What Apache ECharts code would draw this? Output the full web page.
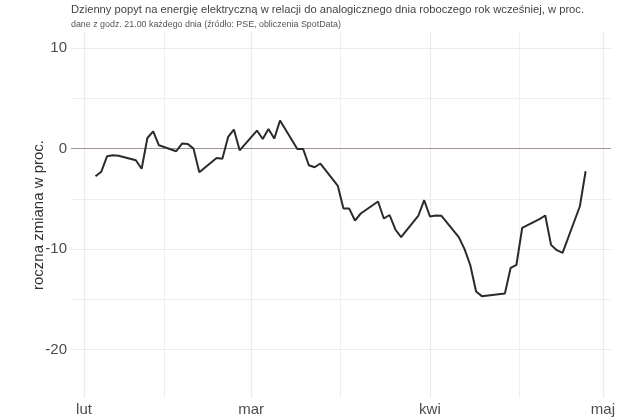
<!DOCTYPE html>
<html>
<head>
<meta charset="utf-8">
<script src="https://cdn.jsdelivr.net/npm/echarts@6/dist/echarts.min.js"></script>
<style>
html,body{margin:0;padding:0;background:#fff;}
#c{width:640px;height:419px;}
</style>
</head>
<body>
<div id="c"></div>
<script>
// Working days, 2020
const dates = [
  '2020-02-03','2020-02-04','2020-02-05','2020-02-06','2020-02-07',
  '2020-02-10','2020-02-11','2020-02-12','2020-02-13','2020-02-14',
  '2020-02-17','2020-02-18','2020-02-19','2020-02-20','2020-02-21',
  '2020-02-24','2020-02-25','2020-02-26','2020-02-27','2020-02-28',
  '2020-03-02','2020-03-03','2020-03-04','2020-03-05','2020-03-06',
  '2020-03-09','2020-03-10','2020-03-11','2020-03-12','2020-03-13',
  '2020-03-16','2020-03-17','2020-03-18','2020-03-19','2020-03-20',
  '2020-03-23','2020-03-24','2020-03-25','2020-03-26','2020-03-27',
  '2020-03-30','2020-03-31','2020-04-01','2020-04-02','2020-04-03',
  '2020-04-06','2020-04-07','2020-04-08','2020-04-09','2020-04-10',
  '2020-04-14','2020-04-15','2020-04-16','2020-04-17',
  '2020-04-20','2020-04-21','2020-04-22','2020-04-23','2020-04-24',
  '2020-04-27','2020-04-28'
];
const values = [
  -2.75,-2.3,-0.76,-0.66,-0.7,
  -1.16,-2.0,1.06,1.72,0.33,
  -0.26,0.5,0.46,0.0,-2.35,
  -0.93,-1.0,1.16,1.9,-0.17,
  1.8,0.96,1.95,1.0,2.8,
  -0.03,-0.03,-1.65,-1.85,-1.48,
  -3.67,-5.96,-5.96,-7.15,-6.45,
  -5.26,-6.95,-6.6,-8.04,-8.8,
  -6.65,-5.13,-6.75,-6.65,-6.68,
  -8.8,-10.0,-11.6,-14.2,-14.67,
  -14.4,-11.85,-11.55,-7.88,
  -7.0,-6.65,-9.57,-10.1,-10.36,
  -5.73,-2.25
];
const monthTicks = ['2020-02-01','2020-03-01','2020-04-01','2020-05-01'];
const monthLabels = ['lut','mar','kwi','maj'];
const minorTicks = ['2020-02-15','2020-03-16','2020-04-16'];
const minorTickHalf = [0, 0.5, 0.5]; // mid-month offsets in days
const yMajor = [-20,-10,0,10];
const yMinor = [-15,-5,5];

const DAY = 86400000;
const base = Date.UTC(2020,1,1);
function dayOf(s){ const p=s.split('-'); return (Date.UTC(+p[0],+p[1]-1,+p[2])-base)/DAY; }
const majorX = monthTicks.map(dayOf);
const minorX = minorTicks.map((d,i)=>dayOf(d)+minorTickHalf[i]);
const lineData = dates.map((d,i)=>[dayOf(d), values[i]]);
const labelMap = {}; majorX.forEach((v,i)=>labelMap[v]=monthLabels[i]);

const gridCol = '#ebebeb';
const gridLines = [];
majorX.forEach(v=>gridLines.push({xAxis:v, lineStyle:{color:gridCol,width:1.1,type:'solid'}}));
minorX.forEach(v=>gridLines.push({xAxis:v, lineStyle:{color:gridCol,width:0.8,type:'solid'}}));
yMajor.forEach(v=>{ if(v!==0) gridLines.push({yAxis:v, lineStyle:{color:gridCol,width:1.1,type:'solid'}}); });
yMinor.forEach(v=>gridLines.push({yAxis:v, lineStyle:{color:gridCol,width:0.8,type:'solid'}}));

const font = 'Liberation Sans, Arial, sans-serif';
const chart = echarts.init(document.getElementById('c'), null, {renderer:'canvas'});
chart.setOption({
  animation:false,
  backgroundColor:'#fff',
  title:{
    text:'Dzienny popyt na energię elektryczną w relacji do analogicznego dnia roboczego rok wcześniej, w proc.',
    subtext:'dane z godz. 21.00 każdego dnia (źródło: PSE, obliczenia SpotData)',
    left:71, top:4, itemGap:5, padding:0,
    textStyle:{fontFamily:font,fontSize:11.2,fontWeight:'normal',color:'#444'},
    subtextStyle:{fontFamily:font,fontSize:8.9,color:'#555'}
  },
  grid:{left:71,right:29,top:32,bottom:21},
  xAxis:{
    type:'value', min:-2.25, max:91.4,
    axisLine:{show:false},
    splitLine:{show:false},
    axisTick:{show:true, customValues:majorX, length:3, lineStyle:{color:'#aaa'}},
    axisLabel:{customValues:majorX, margin:4, fontFamily:font, fontSize:15, color:'#4d4d4d',
      formatter:v=>labelMap[v]||''}
  },
  yAxis:{
    type:'value', min:-24.8, max:11.6,
    name:'roczna zmiana w proc.', nameLocation:'middle', nameGap:25, nameMoveOverlap:false,
    nameTextStyle:{fontFamily:font,fontSize:15,color:'#333'},
    axisLine:{show:false},
    splitLine:{show:false},
    axisTick:{show:true, customValues:yMajor, length:3, lineStyle:{color:'#aaa'}},
    axisLabel:{customValues:yMajor, margin:4, fontFamily:font, fontSize:15, color:'#4d4d4d'}
  },
  series:[
    {
      type:'line', data:lineData, symbol:'none', silent:true, z:1,
      lineStyle:{opacity:0},
      markLine:{silent:true, symbol:'none', label:{show:false}, animation:false, z:1,
        data:gridLines}
    },
    {
      type:'line', data:lineData, symbol:'none', silent:true, z:2,
      lineStyle:{opacity:0},
      markLine:{silent:true, symbol:'none', label:{show:false}, animation:false, z:2,
        data:[{yAxis:0, lineStyle:{color:'#a39494',width:1.1,type:'solid'}}]}
    },
    {
      type:'line', data:lineData, symbol:'none', z:10,
      lineStyle:{color:'#2b2b2b', width:2}
    }
  ]
});
</script>
</body>
</html>
